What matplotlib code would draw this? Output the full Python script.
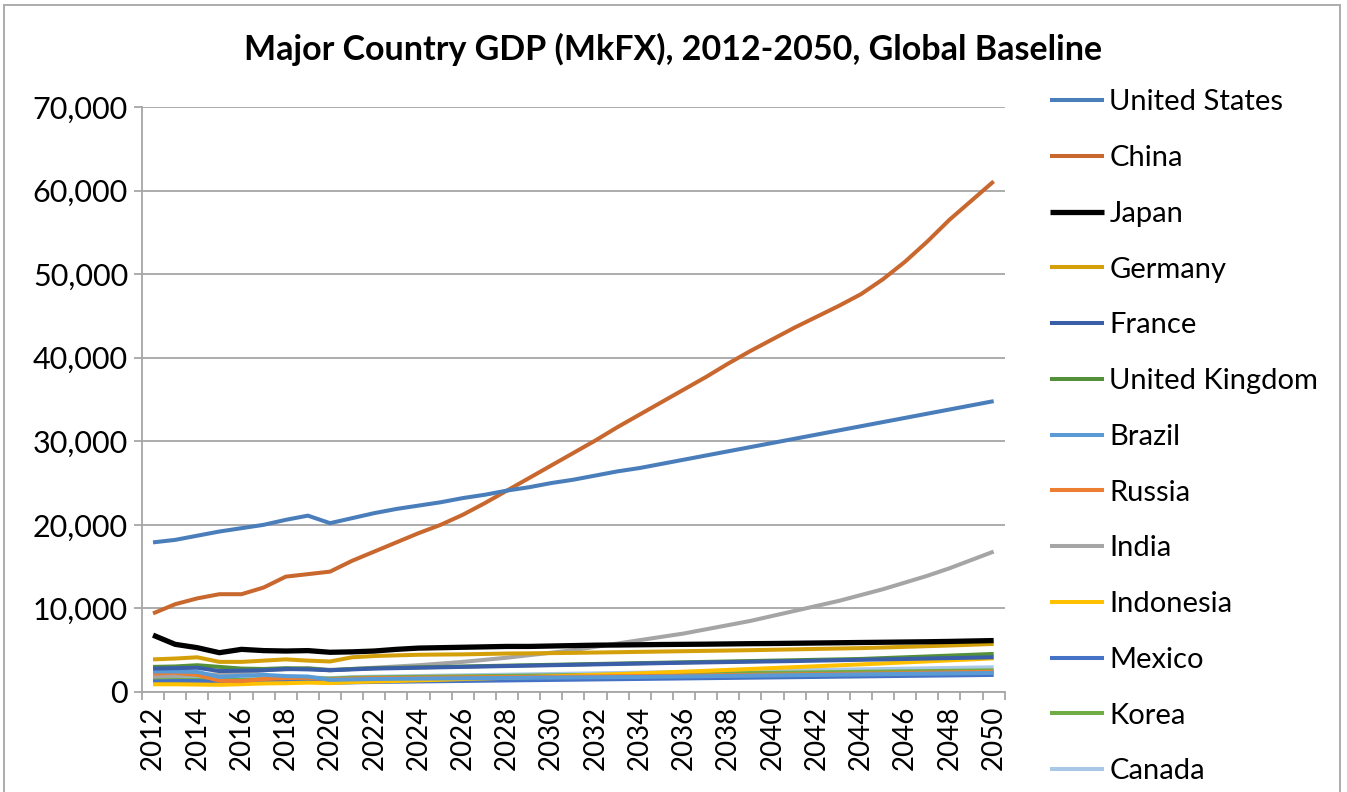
# -*- coding: utf-8 -*-
"""
Major country GDP line chart, 2012-2050
"""

import matplotlib
matplotlib.use("Agg")
import matplotlib.pyplot as plt
from matplotlib.patches import Rectangle
from matplotlib.ticker import FuncFormatter, MultipleLocator

plt.rcParams["font.family"] = ["Lato", "DejaVu Sans"]

# Data (GDP, MkFX)
years = list(range(2012, 2051))
countries = ["United States", "China", "Japan", "Germany", "France",
             "United Kingdom", "Brazil", "Russia", "India", "Indonesia",
             "Mexico", "Korea", "Canada"]

united_states = [17900, 18200, 18700, 19200, 19600, 20000, 20600, 21100, 20200, 20800,
                 21400, 21900, 22300, 22700, 23200, 23600, 24100, 24500, 25000, 25400,
                 25900, 26400, 26800, 27300, 27800, 28300, 28800, 29300, 29800, 30300,
                 30800, 31300, 31800, 32300, 32800, 33300, 33800, 34300, 34800]
china = [9400, 10500, 11200, 11700, 11700, 12500, 13800, 14100, 14400, 15700,
         16800, 17900, 19000, 20000, 21200, 22600, 24100, 25600, 27100, 28600,
         30100, 31700, 33200, 34700, 36200, 37700, 39300, 40800, 42200, 43600,
         44900, 46200, 47600, 49400, 51500, 53900, 56500, 58800, 61100]
japan = [6800, 5700, 5300, 4700, 5100, 4950, 4900, 4950, 4750, 4800,
         4900, 5100, 5250, 5300, 5350, 5400, 5450, 5450, 5500, 5550,
         5600, 5620, 5650, 5680, 5700, 5720, 5750, 5780, 5800, 5830,
         5860, 5890, 5920, 5950, 5980, 6010, 6050, 6100, 6150]
germany = [3900, 4000, 4150, 3600, 3600, 3750, 3900, 3750, 3650, 4150,
           4300, 4380, 4450, 4480, 4500, 4550, 4600, 4620, 4650, 4680,
           4720, 4760, 4800, 4840, 4880, 4920, 4960, 5000, 5050, 5100,
           5150, 5200, 5250, 5320, 5400, 5480, 5560, 5650, 5750]
france = [2800, 2850, 2900, 2500, 2550, 2600, 2750, 2700, 2600, 2700,
          2800, 2850, 2900, 2950, 3000, 3050, 3100, 3150, 3200, 3250,
          3300, 3350, 3400, 3450, 3500, 3540, 3580, 3620, 3660, 3700,
          3750, 3800, 3850, 3900, 3950, 4000, 4050, 4100, 4150]
united_kingdom = [3000, 3050, 3200, 3000, 2800, 2750, 2850, 2800, 2600, 2750,
                  2850, 2900, 2950, 3000, 3050, 3100, 3150, 3200, 3250, 3300,
                  3350, 3400, 3450, 3500, 3550, 3600, 3650, 3700, 3750, 3800,
                  3850, 3900, 3950, 4050, 4150, 4250, 4350, 4450, 4550]
brazil = [2450, 2450, 2400, 1800, 1950, 2050, 1900, 1850, 1450, 1500,
          1550, 1580, 1600, 1620, 1640, 1660, 1680, 1700, 1720, 1740,
          1760, 1780, 1800, 1830, 1860, 1890, 1920, 1950, 1980, 2010,
          2040, 2070, 2100, 2130, 2160, 2190, 2220, 2250, 2280]
russia = [2200, 2300, 2050, 1350, 1300, 1550, 1650, 1700, 1500, 1600,
          1650, 1680, 1700, 1720, 1740, 1760, 1780, 1800, 1820, 1840,
          1860, 1880, 1900, 1920, 1950, 1980, 2010, 2040, 2070, 2100,
          2130, 2160, 2190, 2220, 2260, 2300, 2340, 2380, 2420]
india = [1850, 1900, 2050, 2100, 2300, 2600, 2700, 2850, 2650, 2750,
         2900, 3050, 3200, 3400, 3600, 3850, 4100, 4400, 4700, 5000,
         5400, 5800, 6200, 6600, 7000, 7500, 8000, 8500, 9100, 9700,
         10300, 10900, 11600, 12300, 13100, 13900, 14800, 15800, 16800]
indonesia = [920, 920, 890, 860, 930, 1020, 1050, 1120, 1060, 1180,
             1250, 1320, 1390, 1460, 1540, 1620, 1700, 1780, 1870, 1960,
             2050, 2140, 2230, 2330, 2430, 2530, 2640, 2750, 2860, 2970,
             3080, 3190, 3300, 3420, 3540, 3660, 3780, 3900, 4030]
mexico = [1250, 1300, 1320, 1170, 1080, 1160, 1220, 1270, 1100, 1150,
          1200, 1230, 1260, 1290, 1320, 1350, 1380, 1410, 1440, 1470,
          1500, 1530, 1560, 1590, 1620, 1650, 1680, 1710, 1740, 1770,
          1800, 1830, 1860, 1890, 1920, 1950, 1980, 2010, 2040]
korea = [1450, 1450, 1480, 1460, 1420, 1530, 1620, 1650, 1600, 1700,
         1750, 1780, 1810, 1840, 1870, 1900, 1930, 1960, 1990, 2020,
         2050, 2080, 2110, 2140, 2170, 2200, 2230, 2260, 2290, 2320,
         2350, 2380, 2410, 2440, 2470, 2500, 2530, 2560, 2590]
canada = [1850, 1840, 1800, 1560, 1530, 1650, 1720, 1740, 1650, 1780,
          1830, 1870, 1910, 1950, 1990, 2030, 2070, 2110, 2150, 2190,
          2230, 2270, 2310, 2350, 2390, 2430, 2470, 2510, 2550, 2590,
          2630, 2670, 2710, 2750, 2790, 2830, 2870, 2910, 2950]

series = [united_states, china, japan, germany, france, united_kingdom, brazil,
          russia, india, indonesia, mexico, korea, canada]
colors = ["#4a7ebb", "#c8682f", "#000000", "#d4a00a", "#3b5ea8", "#548f3a",
          "#5b9bd5", "#ed7d31", "#a5a5a5", "#ffc000", "#4472c4", "#70ad47",
          "#a9c8e8"]
widths = [2.9, 2.9, 3.8, 2.9, 2.9, 2.9, 2.9, 2.9, 2.9, 2.9, 2.9, 2.9, 2.9]

fig = plt.figure(figsize=(13.47, 7.92), dpi=100)
ax = fig.add_axes([0.1054, 0.1263, 0.6405, 0.7386])

pos = list(range(len(years)))
# draw later series first so the order matches the stacking in the picture
for i in reversed(range(len(series))):
    ax.plot(pos, series[i], color=colors[i], lw=widths[i], label=countries[i],
            solid_joinstyle="round", solid_capstyle="butt")

ax.set_xlim(-0.5, len(years) - 0.5)
ax.set_ylim(0, 70000)
ax.yaxis.set_major_locator(MultipleLocator(10000))
ax.yaxis.set_major_formatter(FuncFormatter(lambda v, p: f"{int(v):,}"))
ax.grid(axis="y", color="#a6a6a6", lw=1.3)
ax.set_axisbelow(True)

ax.set_xticks(pos[::2])
ax.set_xticklabels([str(y) for y in years[::2]], rotation=90)
ax.set_xticks([p - 0.5 for p in range(len(years) + 1)], minor=True)
ax.tick_params(axis="x", which="major", length=0, pad=10, labelsize=20)
ax.tick_params(axis="x", which="minor", length=6, width=1.3, color="#a6a6a6")
ax.tick_params(axis="y", length=6, width=1.3, color="#a6a6a6", labelsize=22, pad=4)

for s in ["top", "right"]:
    ax.spines[s].set_visible(False)
for s in ["left", "bottom"]:
    ax.spines[s].set_color("#a6a6a6")
    ax.spines[s].set_linewidth(1.3)

fig.text(0.5, 0.937, "Major Country GDP (MkFX), 2012-2050, Global Baseline",
         ha="center", va="center", fontsize=24.5, fontweight="bold")

handles, labels = ax.get_legend_handles_labels()
handles, labels = handles[::-1], labels[::-1]
fig.legend(handles, labels, loc="upper left", bbox_to_anchor=(0.771, 0.902),
           frameon=False, fontsize=21, labelspacing=1.02, handlelength=1.85,
           handletextpad=0.18, borderaxespad=0)

# chart area border
fig.patches.append(Rectangle((0.003, -0.05), 0.992, 1.044, transform=fig.transFigure,
                             fill=False, edgecolor="#a6a6a6", lw=1.3))

plt.savefig("out.png", dpi=100)
